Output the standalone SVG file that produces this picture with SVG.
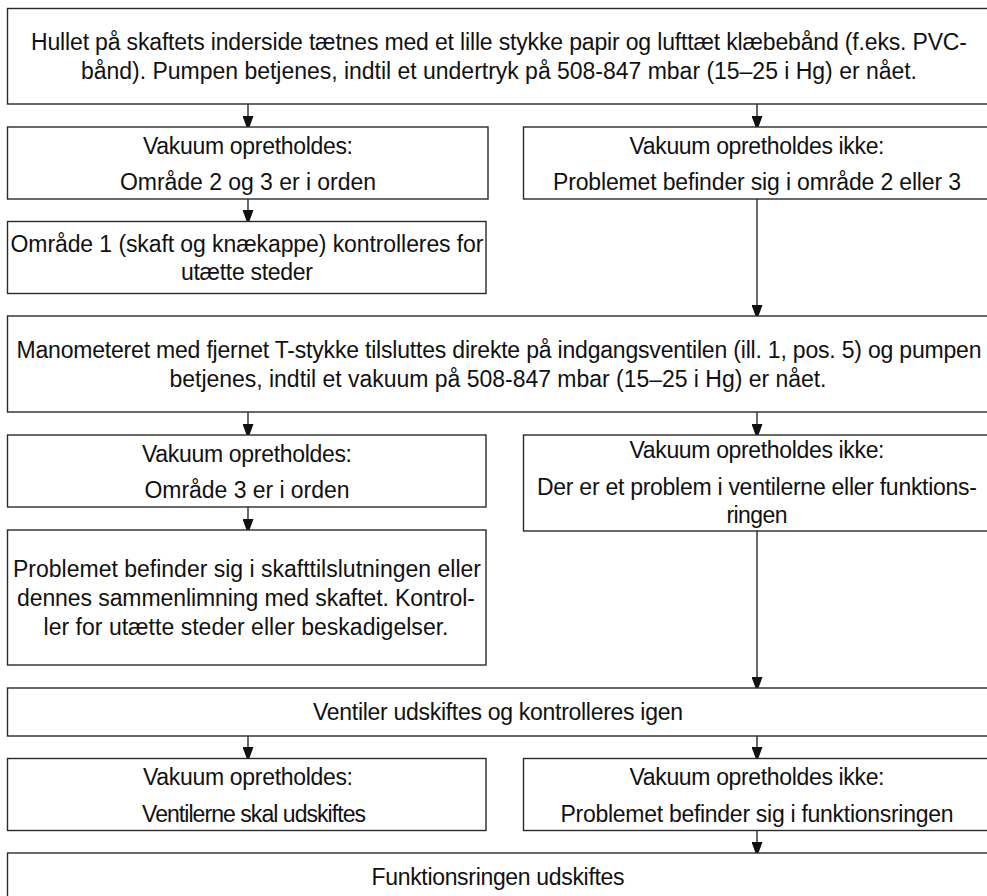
<svg xmlns="http://www.w3.org/2000/svg" width="987" height="896" viewBox="0 0 987 896">
  <style>
    .box { fill: #ffffff; stroke: #2a2a2a; stroke-width: 1.4; }
    .lbl { font-family: "Liberation Sans", Arial, Helvetica, sans-serif; font-size: 23px; fill: #111111; text-anchor: middle; }
    #connectors path { fill: none; stroke: #1a1a1a; stroke-width: 1.3; marker-end: url(#head); }
  </style>
  <defs>
    <!-- solid triangular arrowhead, tip at the end of the line -->
    <marker id="head" viewBox="0 0 15 11" refX="15" refY="5.5" markerWidth="15" markerHeight="11" markerUnits="userSpaceOnUse" orient="auto">
      <path d="M0,0 L15,5.5 L0,11 Z" fill="#111111"/>
    </marker>
  </defs>

  <rect width="987" height="896" fill="#ffffff"/>

  <!-- connectors -->
  <g id="connectors">
    <path d="M248,104 V131"/>
    <path d="M757,104 V131"/>
    <path d="M248,199 V225"/>
    <path d="M757,199 V320"/>
    <path d="M248,412 V439"/>
    <path d="M757,412 V439"/>
    <path d="M248,507 V534"/>
    <path d="M757,531 V692"/>
    <path d="M248,736 V762"/>
    <path d="M757,736 V762"/>
    <path d="M757,831 V857"/>
  </g>

  <!-- step: seal the hole and pump -->
  <g id="n1">
    <rect class="box" x="7.5" y="8.5" width="990" height="95.5"/>
    <text class="lbl" x="499" y="50" textLength="936">Hullet på skaftets inderside tætnes med et lille stykke papir og lufttæt klæbebånd (f.eks. PVC-</text>
    <text class="lbl" x="499" y="79" textLength="836">bånd). Pumpen betjenes, indtil et undertryk på 508-847 mbar (15–25 i Hg) er nået.</text>
  </g>

  <g id="n2">
    <rect class="box" x="7.5" y="127" width="480.5" height="72"/>
    <text class="lbl" x="248" y="154" textLength="210">Vakuum opretholdes:</text>
    <text class="lbl" x="248" y="190" textLength="256">Område 2 og 3 er i orden</text>
  </g>

  <g id="n3">
    <rect class="box" x="523.5" y="127" width="480" height="72"/>
    <text class="lbl" x="757" y="154" textLength="255">Vakuum opretholdes ikke:</text>
    <text class="lbl" x="757" y="190" textLength="408">Problemet befinder sig i område 2 eller 3</text>
  </g>

  <g id="n4">
    <rect class="box" x="7.5" y="221.5" width="478.5" height="72"/>
    <text class="lbl" x="247" y="252" textLength="473">Område 1 (skaft og knækappe) kontrolleres for</text>
    <text class="lbl" x="247" y="280" textLength="132">utætte steder</text>
  </g>

  <!-- step: manometer directly on the inlet valve -->
  <g id="n5">
    <rect class="box" x="7.5" y="316" width="990" height="96"/>
    <text class="lbl" x="499" y="358" textLength="965">Manometeret med fjernet T-stykke tilsluttes direkte på indgangsventilen (ill. 1, pos. 5) og pumpen</text>
    <text class="lbl" x="498" y="387" textLength="657">betjenes, indtil et vakuum på 508-847 mbar (15–25 i Hg) er nået.</text>
  </g>

  <g id="n6">
    <rect class="box" x="7.5" y="435" width="478.5" height="72"/>
    <text class="lbl" x="247" y="462" textLength="210">Vakuum opretholdes:</text>
    <text class="lbl" x="247" y="498" textLength="205">Område 3 er i orden</text>
  </g>

  <g id="n7">
    <rect class="box" x="523.5" y="435" width="480" height="96"/>
    <text class="lbl" x="757" y="458" textLength="255">Vakuum opretholdes ikke:</text>
    <text class="lbl" x="757" y="495" textLength="440">Der er et problem i ventilerne eller funktions-</text>
    <text class="lbl" x="757" y="523" textLength="61">ringen</text>
  </g>

  <g id="n8">
    <rect class="box" x="7.5" y="530" width="478.5" height="135"/>
    <text class="lbl" x="247" y="577" textLength="468">Problemet befinder sig i skafttilslutningen eller</text>
    <text class="lbl" x="246" y="606" textLength="458">dennes sammenlimning med skaftet. Kontrol-</text>
    <text class="lbl" x="246" y="635" textLength="405">ler for utætte steder eller beskadigelser.</text>
  </g>

  <!-- step: replace the valves -->
  <g id="n9">
    <rect class="box" x="7.5" y="688" width="990" height="48"/>
    <text class="lbl" x="498" y="720" textLength="370">Ventiler udskiftes og kontrolleres igen</text>
  </g>

  <g id="n10">
    <rect class="box" x="7.5" y="758.5" width="478.5" height="72"/>
    <text class="lbl" x="248" y="785" textLength="210">Vakuum opretholdes:</text>
    <text class="lbl" x="254" y="822" textLength="224">Ventilerne skal udskiftes</text>
  </g>

  <g id="n11">
    <rect class="box" x="523.5" y="758.5" width="480" height="72"/>
    <text class="lbl" x="757" y="785" textLength="255">Vakuum opretholdes ikke:</text>
    <text class="lbl" x="757" y="822" textLength="393">Problemet befinder sig i funktionsringen</text>
  </g>

  <g id="n12">
    <rect class="box" x="7.5" y="853" width="990" height="60"/>
    <text class="lbl" x="498" y="885" textLength="253">Funktionsringen udskiftes</text>
  </g>
</svg>
